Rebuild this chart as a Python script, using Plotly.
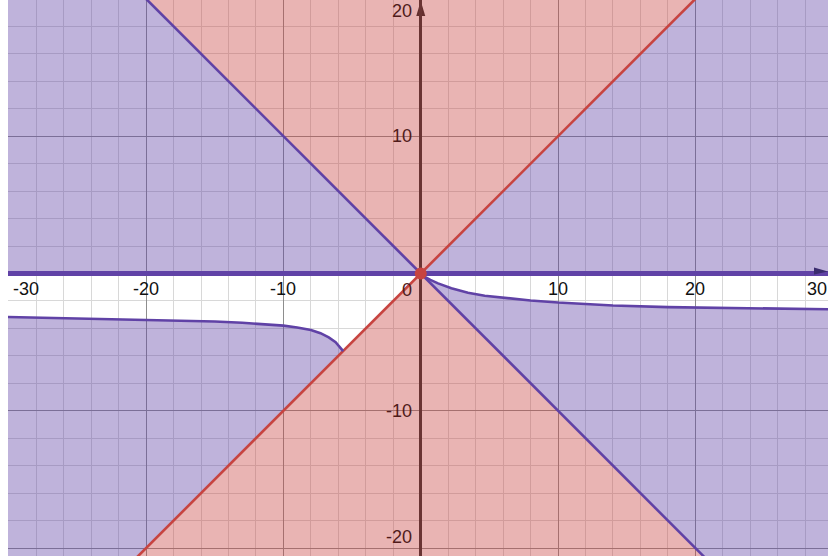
import plotly.graph_objects as go

# curve (below the x axis)
right_x = [0, 0.3, 0.7, 1.26, 2.23, 3.44, 4.66, 6, 8, 10, 12, 14, 18, 23.5, 30, 31]
right_y = [0, -0.25, -0.47, -0.72, -1.08, -1.40, -1.62, -1.78, -1.97, -2.12, -2.24, -2.33, -2.45, -2.54, -2.62, -2.63]
left_x = [-31, -30, -24.6, -18.3, -15, -13, -11.7, -10, -9, -8, -7.3, -6.7, -6.2, -5.65]
left_y = [-3.15, -3.17, -3.27, -3.39, -3.50, -3.59, -3.68, -3.80, -3.93, -4.12, -4.35, -4.66, -5.0, -5.65]

# the two diagonals y=x and y=-x run off the view at both ends
diag_ends = [-31, 31]

x_labels = [-30, -20, -10, 10, 20, 30]
y_labels = [-20, -10, 10, 20]

xr = [-30.06, 29.66]
yr = [-20.58, 19.92]

PURPLE = '#6042a6'
RED = '#c74440'
PFILL = 'rgba(96,66,166,0.4)'
RFILL = 'rgba(199,68,64,0.4)'

lo, hi = diag_ends
fig = go.Figure()

def poly(xs, ys, color):
    fig.add_trace(go.Scatter(x=xs + [xs[0]], y=ys + [ys[0]], mode='lines', fill='toself',
                             fillcolor=color, line=dict(width=0), hoverinfo='skip', showlegend=False))

# red cones |y| > |x|
poly([0, lo, hi], [0, hi, hi], RFILL)
poly([0, lo, hi], [0, lo, lo], RFILL)
# purple cones above the x axis
poly([0, lo, lo], [0, hi, 0], PFILL)
poly([0, hi, hi], [0, hi, 0], PFILL)
# purple below the curve
poly(left_x + [lo], left_y + [lo], PFILL)
poly(right_x + [hi], right_y + [lo], PFILL)

def line(xs, ys, color, w):
    fig.add_trace(go.Scatter(x=xs, y=ys, mode='lines', line=dict(color=color, width=w),
                             hoverinfo='skip', showlegend=False))

line(diag_ends, [hi, lo], PURPLE, 2.6)
line(diag_ends, diag_ends, RED, 2.6)
line(right_x, right_y, PURPLE, 2.6)
line(left_x, left_y, PURPLE, 2.6)
line(diag_ends, [0, 0], PURPLE, 5)
fig.add_trace(go.Scatter(x=[0], y=[0], mode='markers', marker=dict(color=RED, size=12),
                         hoverinfo='skip', showlegend=False))

font = dict(family='Liberation Sans, Arial, sans-serif', size=18)
ann = []
for v in x_labels:
    a = dict(x=v, y=0, yshift=-16, text=str(v), showarrow=False, yanchor='middle',
             font=dict(font, color='#111'))
    if v < xr[0] + 1:
        a.update(x=xr[0], xanchor='left', xshift=3)
    elif v > xr[1] - 1:
        a.update(x=xr[1], xanchor='right', xshift=1)
    ann.append(a)
ann.append(dict(x=0, y=0, xshift=-7, yshift=-17, text='0', showarrow=False, xanchor='right',
                yanchor='middle', font=dict(font, color='#501b1a')))
for v in y_labels:
    a = dict(x=0, y=v, xshift=-7, text=str(v), showarrow=False, xanchor='right', yanchor='middle',
             font=dict(font, color='#501b1a'))
    if v > yr[1] - 1:
        a.update(y=yr[1], yshift=-11)
    elif v < yr[0] + 1:
        a.update(y=yr[0], yshift=19)
    ann.append(a)

shapes = [
    dict(type='path', xref='x', yref='y', xsizemode='pixel', ysizemode='pixel', xanchor=0, yanchor=yr[1],
         path='M -4.5,-16 L 0,-1 L 4.5,-16 Z', fillcolor='#222', line=dict(width=0), layer='below'),
    dict(type='path', xref='x', yref='y', xsizemode='pixel', ysizemode='pixel', xanchor=xr[1], yanchor=0,
         path='M -14,-1 L 0,2 L -14,6 Z', fillcolor='#3a2c6e', line=dict(width=0), layer='above'),
]

axis = dict(showticklabels=False, ticks='', showline=False, dtick=10, tick0=0,
            gridcolor='#8e8e8e', gridwidth=1,
            minor=dict(dtick=2, tick0=0, showgrid=True, gridcolor='#d8d8d8', gridwidth=1),
            fixedrange=True)
fig.update_layout(
    width=828, height=556, margin=dict(l=8, r=0, t=0, b=0),
    plot_bgcolor='white', paper_bgcolor='white',
    xaxis=dict(axis, range=xr, zeroline=True, zerolinecolor='#2a2a2a', zerolinewidth=2.5),
    yaxis=dict(axis, range=yr, zeroline=False),
    annotations=ann, shapes=shapes,
)
fig.write_html("out.html", config={'displayModeBar': False},
               post_script="document.body.style.margin='0px';")
